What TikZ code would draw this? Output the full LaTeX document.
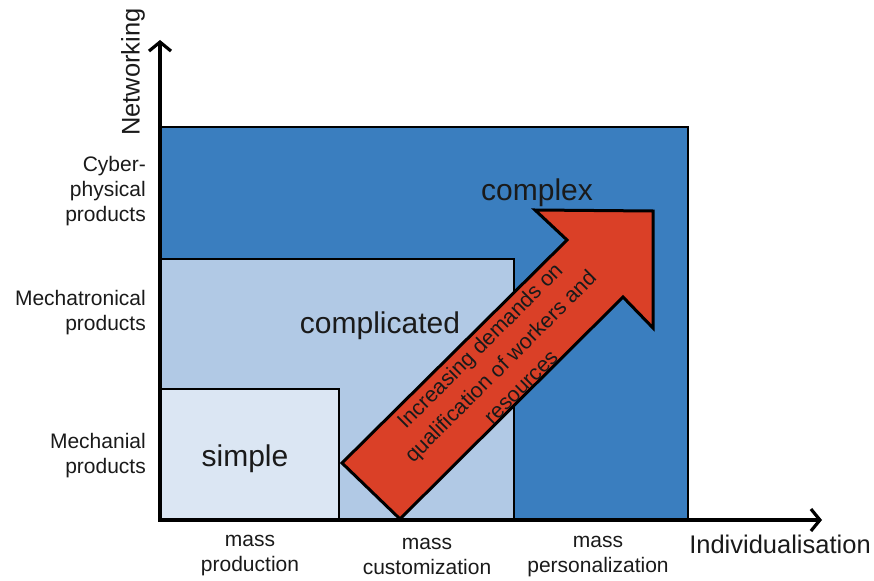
\documentclass[tikz,border=0pt]{standalone}
\usepackage{fontspec}
\setmainfont{Liberation Sans}
\usetikzlibrary{arrows.meta}
\definecolor{complexblue}{HTML}{3A7EBF}
\definecolor{complicatedblue}{HTML}{B1C9E5}
\definecolor{simpleblue}{HTML}{DBE6F3}
\definecolor{demandred}{HTML}{DA4027}
\definecolor{labelgray}{HTML}{1A1A1A}
\tikzset{
  levelbox/.style={draw=black,line width=2.2pt},
  axisarrow/.style={-{Straight Barb[length=9pt,width=22pt,line width=3.2pt]},line width=3.5pt},
  axislabel/.style={font=\fontsize{25.5}{29}\selectfont,text=labelgray,inner sep=0pt},
  ticklabel/.style={font=\fontsize{21}{25}\selectfont,text=labelgray,inner sep=0pt},
  levellabel/.style={font=\fontsize{30}{34}\selectfont,text=labelgray,inner sep=0pt},
  demandarrow/.style={fill=demandred,draw=black,line width=3pt,line join=miter}
}
\begin{document}
\begin{tikzpicture}[x=1pt,y=-1pt]
  \useasboundingbox (0,0) rectangle (874,580);
  % complexity levels
  \draw[levelbox,fill=complexblue] (160,127) rectangle (688,520);
  \draw[levelbox,fill=complicatedblue] (160,259) rectangle (514,520);
  \draw[levelbox,fill=simpleblue] (160,389) rectangle (339,520);
  \node[levellabel] (complex) at (537,193) {complex};
  \node[levellabel] (complicated) at (380,326) {complicated};
  \node[levellabel] (simple) at (245,459) {simple};
  % rising demands
  \draw[demandarrow] (342,463) -- (567,240) -- (535,210) -- (653,211)
    -- (653,328) -- (623,297) -- (400,519) -- cycle;
  \node[ticklabel,rotate=45,align=center,font=\fontsize{21.5}{29}\selectfont]
    (demands) at (500,366) {Increasing demands on\\qualification of workers and\\resources};
  % axes
  \coordinate (origin) at (160,520);
  \coordinate (ytop) at (160,40);
  \coordinate (xend) at (822,520);
  \draw[axisarrow] ([yshift=2pt]origin) -- (ytop);
  \draw[axisarrow] ([xshift=-1.7pt]origin) -- (xend);
  \node[axislabel,rotate=90] (networking) at (133,72) {Networking};
  \node[axislabel] (individualisation) at (780,544) {Individualisation};
  % product types
  \node[ticklabel,anchor=east,align=right] (cyber) at (146,191) {Cyber-\\physical\\products};
  \node[ticklabel,anchor=east,align=right] (mechatronical) at (146,313) {Mechatronical\\products};
  \node[ticklabel,anchor=east,align=right] (mechanial) at (146,456) {Mechanial\\products};
  % production types
  \node[ticklabel,align=center] (production) at (250,556) {mass\\production};
  \node[ticklabel,align=center] (customization) at (427,556) {mass\\customization};
  \node[ticklabel,align=center] (personalization) at (598,557) {mass\\personalization};
\end{tikzpicture}
\end{document}
